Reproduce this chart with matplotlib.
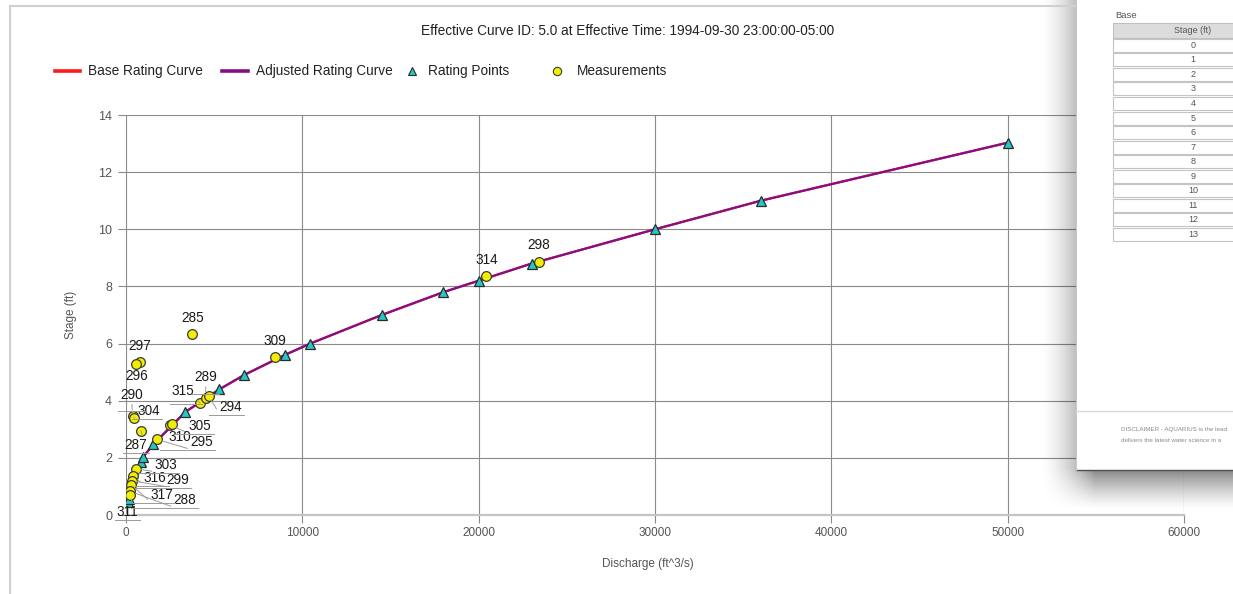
import numpy as np
import matplotlib
matplotlib.use("Agg")
import matplotlib.pyplot as plt
from matplotlib.patches import Rectangle
from matplotlib.lines import Line2D
from matplotlib import font_manager as fm

# ---------------- data ----------------
title = "Effective Curve ID: 5.0 at Effective Time: 1994-09-30 23:00:00-05:00"
legend_labels = ["Base Rating Curve", "Adjusted Rating Curve", "Rating Points", "Measurements"]

rating_q = [130, 190, 850, 980, 1550, 3350, 5300, 6700, 9000, 10450,
            14500, 18000, 20000, 23000, 30000, 36000, 50000]
rating_h = [0.47, 0.55, 1.87, 2.04, 2.47, 3.60, 4.40, 4.90, 5.60, 6.00,
            7.00, 7.80, 8.20, 8.80, 10.00, 11.00, 13.03]

meas_id = ["298", "314", "309", "285", "297", "296", "290", "304", "287", "315",
           "289", "294", "305", "310", "295", "303", "316", "299", "317", "288", "311"]
meas_q = [23430, 20440, 8430, 3760, 790, 585, 380, 450, 850, 4200,
          4520, 4680, 2510, 2600, 1740, 567, 415, 340, 280, 227, 200]
meas_h = [8.86, 8.35, 5.52, 6.34, 5.34, 5.30, 3.48, 3.40, 2.95, 3.92,
          4.09, 4.18, 3.14, 3.20, 2.65, 1.62, 1.36, 1.20, 1.06, 0.83, 0.70]

x_ticks = [0, 10000, 20000, 30000, 40000, 50000, 60000]
y_ticks = [0, 2, 4, 6, 8, 10, 12, 14]
table_stage = [0, 1, 2, 3, 4, 5, 6, 7, 8, 9, 10, 11, 12, 13]
disclaimer = ["DISCLAIMER - AQUARIUS is the lead", "delivers the latest water science in a"]

# label layout (pixel offsets from point: dx, dy(up), leader line?)
label_layout = {
    "298": (0, 17, False), "314": (0, 16, False), "309": (0, 16, False),
    "285": (0, 16, False), "297": (0, 16, False), "296": (0, -12, False),
    "290": (-1, 21, True), "304": (15, 7, True), "287": (-5, -14, True),
    "315": (-17, 12, True), "289": (0, 21, True), "294": (22, -11, True),
    "305": (30, -1, True), "310": (8, -13, False), "295": (45, -3, True),
    "303": (30, 4, True), "316": (22, -2, True), "299": (46, 1, True),
    "317": (31, -10, True), "288": (55, -9, True), "311": (-2, -17, True),
}

# ---------------- fonts ----------------
def has_font(name):
    try:
        fm.findfont(fm.FontProperties(family=name), fallback_to_default=False)
        return True
    except Exception:
        return False

MAIN = "Liberation Sans"
NARROW = "Liberation Sans Narrow" if has_font("Liberation Sans Narrow") else "Liberation Sans"
plt.rcParams["font.family"] = [MAIN, "DejaVu Sans"]

W, H = 1233, 594
fig = plt.figure(figsize=(W / 100, H / 100), dpi=100)
fig.patch.set_facecolor("white")

def fx(px):
    return px / W

def fy(py):
    return 1 - py / H

ax = fig.add_axes([fx(126), fy(515), fx(1184) - fx(126), fy(115) - fy(515)])
ax.set_xlim(0, 60000)
ax.set_ylim(0, 14)
ax.set_xticks(x_ticks)
ax.set_yticks(y_ticks)
ax.set_xticklabels([str(v) for v in x_ticks], fontfamily=NARROW, fontsize=8.5, color="#555555")
ax.set_yticklabels([str(v) for v in y_ticks], fontsize=9, color="#555555")
grid_c = "#8a8a8a"
ax.grid(True, color=grid_c, lw=0.8)
ax.tick_params(axis="both", length=6, width=0.8, color=grid_c, pad=3)
ax.tick_params(axis="y", pad=4)
for s in ["top", "right", "left"]:
    ax.spines[s].set_visible(False)
ax.spines["bottom"].set_color("#c4c4c4")
ax.spines["bottom"].set_linewidth(1.6)
ax.set_axisbelow(True)

ax.set_xlabel("Discharge (ft^3/s)", fontfamily=NARROW, fontsize=8.5, color="#555555")
ax.set_ylabel("Stage (ft)", fontfamily=NARROW, fontsize=8.5, color="#555555")
ax.xaxis.set_label_coords((648 - 126) / 1058, -0.108)
ax.yaxis.set_label_coords(-0.046, 0.5)

red = "#ff1a1a"
purple = "#860f86"
cyan = "#26c6c6"
yellow = "#f2ee00"

ax.plot(rating_q, rating_h, color=red, lw=1.6, zorder=2)
ax.plot(rating_q, rating_h, color=purple, lw=1.6, zorder=3)
ax.plot(rating_q, rating_h, ls="none", marker="^", ms=7.5, mfc=cyan, mec="#2a2a2a", mew=0.9, zorder=4)
ax.plot(meas_q, meas_h, ls="none", marker="o", ms=7, mfc=yellow, mec="#3a3a3a", mew=0.9, zorder=5)

lead_texts = []
for lab, q, h in zip(meas_id, meas_q, meas_h):
    dx, dy, lead = label_layout[lab]
    kw = {}
    if lead:
        if dy > 15:
            rel = (0.5, 0)
        elif dx >= 0:
            rel = (0, 0)
        else:
            rel = (1, 0)
        kw["arrowprops"] = dict(arrowstyle="-", color="#9a9a9a", lw=0.7,
                                shrinkA=0, shrinkB=4, relpos=rel)
    t = ax.annotate(lab, (q, h), xytext=(dx * 0.72, dy * 0.72), textcoords="offset points",
                    ha="center", va="center", fontsize=9.8, color="#1a1a1a", zorder=6, **kw)
    if lead:
        lead_texts.append(t)

# ---------------- title and legend ----------------
fig.text(fx(628), fy(31), title, ha="center", va="center", fontsize=9.8, color="#222222")

legend_y = fy(71)
fig.add_artist(Line2D([fx(55), fx(80)], [legend_y, legend_y], color=red, lw=2.6))
fig.text(fx(88), legend_y, legend_labels[0], ha="left", va="center", fontsize=9.8, color="#222222")
fig.add_artist(Line2D([fx(222), fx(248)], [legend_y, legend_y], color=purple, lw=2.6))
fig.text(fx(256), legend_y, legend_labels[1], ha="left", va="center", fontsize=9.8, color="#222222")
fig.add_artist(Line2D([fx(412)], [legend_y], ls="none", marker="^", ms=6, mfc=cyan, mec="#2a2a2a", mew=0.8))
fig.text(fx(428), legend_y, legend_labels[2], ha="left", va="center", fontsize=9.8, color="#222222")
fig.add_artist(Line2D([fx(557)], [legend_y], ls="none", marker="o", ms=6, mfc=yellow, mec="#3a3a3a", mew=0.8))
fig.text(fx(577), legend_y, legend_labels[3], ha="left", va="center", fontsize=9.8, color="#222222")

# underlines for labels with leader lines
fig.canvas.draw()
renderer = fig.canvas.get_renderer()
inv = fig.transFigure.inverted()
for t in lead_texts:
    bb = t.get_window_extent(renderer)
    (x0, y0), (x1, _) = inv.transform([(bb.x0 - 2, bb.y0 - 1), (bb.x1 + 2, bb.y0 - 1)])
    fig.add_artist(Line2D([x0, x1], [y0, y0], color="#9a9a9a", lw=0.7, zorder=2))

# ---------------- overlay (frame, panel with shadow) ----------------
ov = fig.add_axes([0, 0, 1, 1], zorder=10)
ov.set_xlim(0, W)
ov.set_ylim(H, 0)
ov.axis("off")
ov.patch.set_alpha(0)

ov.plot([9.5, 9.5], [5.5, H], color="#d0d0d0", lw=1.5)
ov.plot([9.5, 1076], [5.5, 5.5], color="#d0d0d0", lw=1.5)

# shadow
x0s, x1s, y0s, y1s = 1030, W, 0, 520
xs = np.arange(x0s, x1s) + 0.5
ys = np.arange(y0s, y1s) + 0.5
fxs = np.clip((xs - 1040) / 55.0, 0, 1) ** 1.6
fys = np.clip((510 - ys) / 42.0, 0, 1) ** 1.3
alpha = 0.5 * np.outer(fys, fxs)
img = np.zeros((len(ys), len(xs), 4))
img[..., 3] = alpha
ov.imshow(img, extent=(x0s, x1s, y1s, y0s), origin="upper", interpolation="bilinear",
          aspect="auto", zorder=1)
ov.set_xlim(0, W)
ov.set_ylim(H, 0)

ov.add_patch(Rectangle((1076, -2), 200, 472, facecolor="white", edgecolor="none", zorder=2))
ov.plot([1076, W], [470, 470], color="#505050", lw=1.0, zorder=3)
ov.plot([1076, 1076], [0, 470], color="#c8c8c8", lw=0.8, zorder=3)

ov.text(1115, 15, "Base", fontsize=6.8, color="#555555", ha="left", va="center", zorder=4)
ov.add_patch(Rectangle((1113, 23), 150, 15, facecolor="#dcdcdc", edgecolor="#c0c0c0", lw=0.8, zorder=3))
ov.text(1193, 30.5, "Stage (ft)", fontsize=6.5, color="#555555", ha="center", va="center", zorder=4)
row_h = 14.55
for i, st in enumerate(table_stage):
    yy = 38 + i * row_h
    ov.add_patch(Rectangle((1113, yy + 0.8), 150, row_h - 1.6, facecolor="white",
                           edgecolor="#c4c4c4", lw=0.8, zorder=3))
    ov.text(1193, yy + row_h / 2, str(st), fontsize=6.5, color="#555555",
            ha="center", va="center", zorder=4)

ov.plot([1076, W], [411, 411], color="#dadada", lw=1.0, zorder=3)
ov.text(1121, 430, disclaimer[0], fontsize=4.5, color="#8a8a8a",
        ha="left", va="center", zorder=4)
ov.text(1121, 440, disclaimer[1], fontsize=4.5, color="#8a8a8a",
        ha="left", va="center", zorder=4)

fig.savefig("out.png", dpi=100)
